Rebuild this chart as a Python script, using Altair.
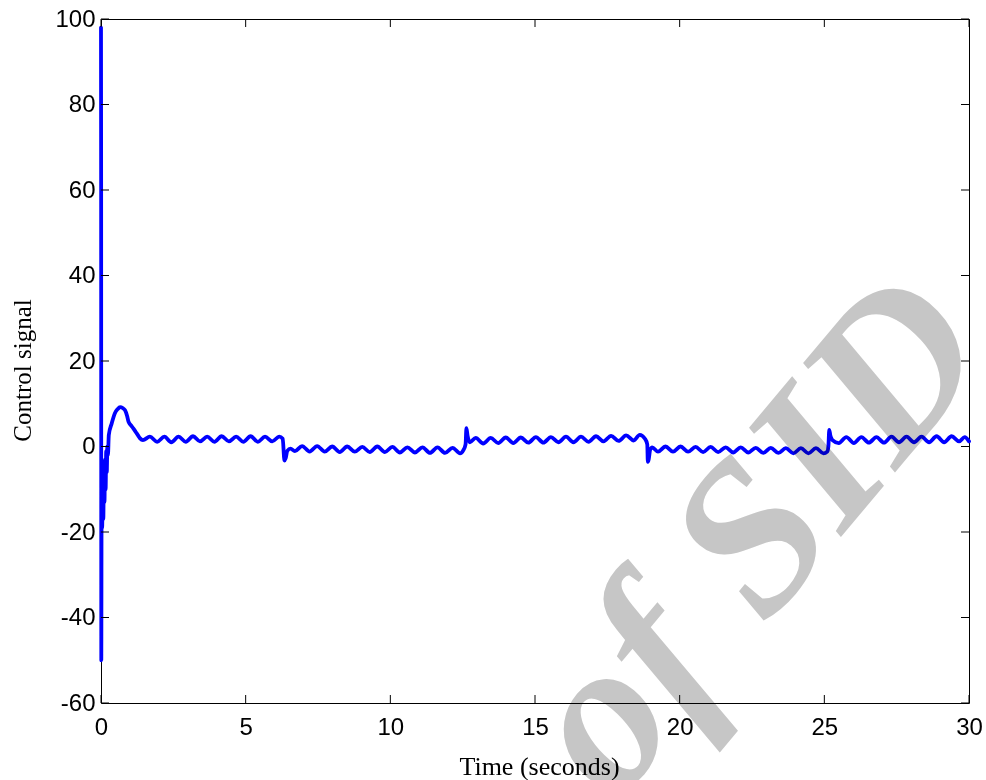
import altair as alt
import pandas as pd

# ---- control signal u(t), read as turning points of each phase ----
# start-up transient (spike, chatter, overshoot)
t_start = [0.0, 0.005, 0.01, 0.02, 0.04, 0.06, 0.08, 0.10, 0.12, 0.14, 0.16, 0.18,
           0.20, 0.22, 0.24, 0.27, 0.37, 0.48, 0.57, 0.66, 0.75, 0.83, 0.90, 0.95,
           1.03, 1.11, 1.20, 1.28, 1.35]
u_start = [98, 60, -50, -15, -19, -8, -17, -5, -13, -3, -10, -1,
           -6, 0, -2, 2.7, 5.4, 7.8, 8.7, 9.2, 9.0, 8.5, 7.2, 5.8,
           5.0, 4.3, 3.4, 2.6, 1.9]

# first positive level
t_pos1 = [1.45, 1.69, 1.94, 2.19, 2.43, 2.68, 2.93, 3.18, 3.42, 3.67, 3.92, 4.17,
          4.42, 4.67, 4.92, 5.17, 5.42, 5.67, 5.92, 6.16, 6.28]
u_pos1 = [1.5, 2.3, 1.1, 2.3, 1.0, 2.3, 1.1, 2.4, 1.2, 2.3, 1.1, 2.4,
          1.2, 2.3, 1.1, 2.4, 1.1, 2.3, 1.2, 2.3, 1.8]

# first negative level
t_neg1 = [6.34, 6.38, 6.44, 6.55, 6.70, 6.95, 7.21, 7.47, 7.73, 7.99, 8.25, 8.51,
          8.77, 9.03, 9.29, 9.55, 9.81, 10.07, 10.33, 10.59, 10.85, 11.11, 11.37,
          11.63, 11.89, 12.15, 12.41, 12.52]
u_neg1 = [-3.3, -2.8, -1.0, -0.5, -1.1, 0.1, -1.2, 0.1, -1.2, 0.0, -1.3, 0.0,
          -1.2, -0.1, -1.3, 0.0, -1.3, -0.1, -1.4, -0.2, -1.4, -0.2, -1.5,
          -0.2, -1.5, -0.3, -1.6, -0.9]

# second positive level
t_pos2 = [12.60, 12.63, 12.67, 12.75, 12.95, 13.21, 13.47, 13.73, 13.99, 14.25,
          14.51, 14.77, 15.03, 15.29, 15.55, 15.81, 16.07, 16.33, 16.59, 16.85,
          17.11, 17.37, 17.63, 17.89, 18.15, 18.41, 18.62, 18.80, 18.88]
u_pos2 = [0.5, 4.3, 2.5, 1.0, 2.0, 0.7, 2.0, 0.8, 2.1, 0.8,
          2.1, 0.9, 2.2, 0.9, 2.2, 1.0, 2.3, 1.0, 2.3, 1.1,
          2.4, 1.2, 2.5, 1.3, 2.6, 1.4, 2.7, 1.8, 0.5]

# second negative level
t_neg2 = [18.90, 18.93, 18.98, 19.05, 19.25, 19.51, 19.77, 20.03, 20.29, 20.55,
          20.81, 21.07, 21.33, 21.59, 21.85, 22.11, 22.37, 22.63, 22.89, 23.15,
          23.41, 23.67, 23.93, 24.19, 24.45, 24.71, 24.97, 25.10]
u_neg2 = [-3.6, -3.0, -0.8, -0.2, -1.2, 0.0, -1.2, 0.0, -1.2, -0.1,
          -1.3, -0.1, -1.3, -0.2, -1.4, -0.2, -1.4, -0.3, -1.5, -0.3,
          -1.5, -0.4, -1.6, -0.4, -1.6, -0.4, -1.6, -1.2]

# third positive level
t_pos3 = [25.14, 25.17, 25.21, 25.28, 25.50, 25.76, 26.02, 26.28, 26.54, 26.80,
          27.06, 27.32, 27.58, 27.84, 28.10, 28.36, 28.62, 28.88, 29.14, 29.40,
          29.66, 29.85, 30.00]
u_pos3 = [0.0, 3.9, 2.5, 1.5, 0.8, 2.2, 0.8, 2.2, 0.9, 2.2,
          0.9, 2.3, 1.0, 2.3, 1.0, 2.3, 1.0, 2.4, 1.0, 2.4,
          1.2, 2.2, 1.2]

x_tick_values = [0, 5, 10, 15, 20, 25, 30]
y_tick_values = [-60, -40, -20, 0, 20, 40, 60, 80, 100]

x_title = "Time (seconds)"
y_title = "Control signal"
watermark_text = "Archive of SID"

W, H = 868, 684
TICK = 8

times = t_start + t_pos1 + t_neg1 + t_pos2 + t_neg2 + t_pos3
values = u_start + u_pos1 + u_neg1 + u_pos2 + u_neg2 + u_pos3
signal = pd.DataFrame({"t": times, "u": values})

x_scale = alt.Scale(domain=[0, 30], nice=False, zero=False)
y_scale = alt.Scale(domain=[-60, 100], nice=False, zero=False)

# plain hyphen-minus for negative tick labels
plain_label = "'' + datum.value"

x_axis = alt.Axis(
    values=x_tick_values, ticks=False, domain=False, grid=False,
    labelExpr=plain_label,
    labelFont="Liberation Sans", labelFontSize=24, labelColor="black",
    labelPadding=12, labelFlush=False, labelOverlap=False,
    title=x_title, titleFont="Liberation Serif", titleFontSize=26,
    titleFontWeight="normal", titleColor="black",
    titleX=438, titleY=71, titleBaseline="alphabetic", titleAlign="center",
)
y_axis = alt.Axis(
    values=y_tick_values, ticks=False, domain=False, grid=False,
    labelExpr=plain_label,
    labelFont="Liberation Sans", labelFontSize=24, labelColor="black",
    labelPadding=6, labelFlush=False, labelOverlap=False,
    title=y_title, titleFont="Liberation Serif", titleFontSize=25,
    titleFontWeight="normal", titleColor="black", titleAngle=270,
    titleX=-71, titleY=351, titleBaseline="alphabetic", titleAlign="center",
)

line = alt.Chart(signal).mark_line(
    color="#0000ff", strokeWidth=3.8, interpolate="monotone",
    strokeJoin="round", strokeCap="round",
).encode(
    x=alt.X("t:Q", scale=x_scale, axis=x_axis),
    y=alt.Y("u:Q", scale=y_scale, axis=y_axis),
)

# inward tick marks on all four sides of the box
xt = pd.DataFrame({"t": x_tick_values})
yt = pd.DataFrame({"u": y_tick_values})
tick_style = dict(color="black", strokeWidth=1)

bottom_ticks = alt.Chart(xt).mark_rule(**tick_style).encode(
    x=alt.X("t:Q", scale=x_scale), y=alt.value(H), y2=alt.value(H - TICK))
top_ticks = alt.Chart(xt).mark_rule(**tick_style).encode(
    x=alt.X("t:Q", scale=x_scale), y=alt.value(0), y2=alt.value(TICK))
left_ticks = alt.Chart(yt).mark_rule(**tick_style).encode(
    y=alt.Y("u:Q", scale=y_scale), x=alt.value(0), x2=alt.value(TICK))
right_ticks = alt.Chart(yt).mark_rule(**tick_style).encode(
    y=alt.Y("u:Q", scale=y_scale), x=alt.value(W), x2=alt.value(W - TICK))

watermark = alt.Chart(pd.DataFrame({"w": [watermark_text]})).mark_text(
    font="Liberation Serif", fontStyle="italic", fontWeight="bold",
    fontSize=215, color="#c6c6c6", angle=310, align="center",
    baseline="middle", blend="multiply",
).encode(text="w:N", x=alt.value(415), y=alt.value(804))

chart = alt.layer(
    line, bottom_ticks, top_ticks, left_ticks, right_ticks, watermark
).properties(
    width=W, height=H,
    padding={"left": 101, "top": 19, "right": 17, "bottom": 77},
    autosize=alt.AutoSizeParams(type="none"),
    background="white",
).configure_view(stroke="black", strokeWidth=1)

chart.save("out.html", embed_options={"renderer": "svg", "actions": False})
